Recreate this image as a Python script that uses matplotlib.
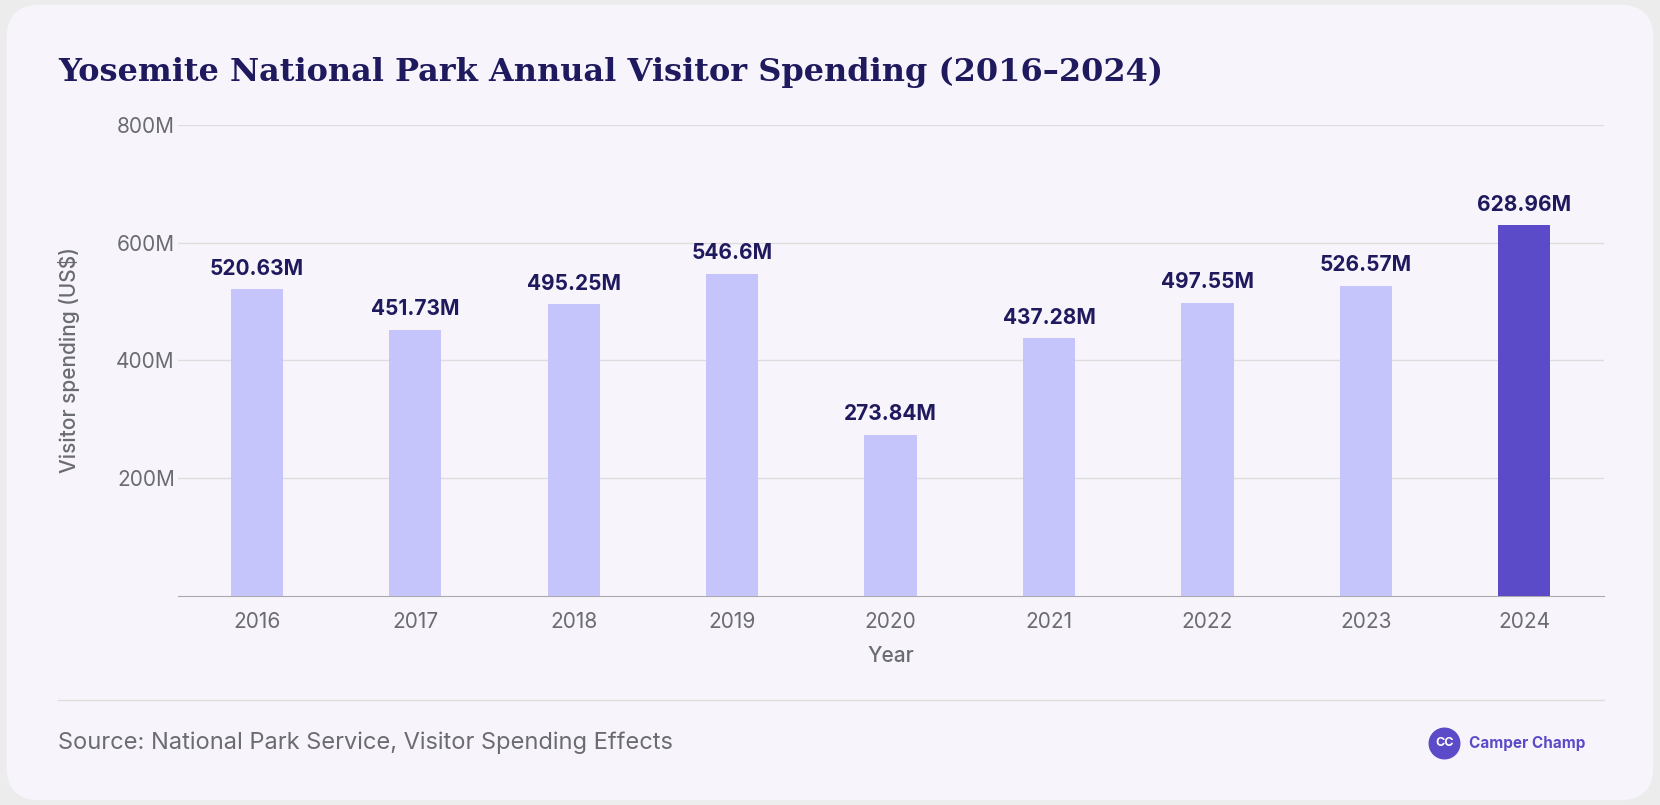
import matplotlib
matplotlib.use("Agg")
import matplotlib.pyplot as plt
from matplotlib.patches import FancyBboxPatch
from matplotlib.lines import Line2D

plt.rcParams['font.family'] = ['Inter', 'DejaVu Sans']

years = ["2016","2017","2018","2019","2020","2021","2022","2023","2024"]
spending = [520.63, 451.73, 495.25, 546.6, 273.84, 437.28, 497.55, 526.57, 628.96]
labels = ["520.63M","451.73M","495.25M","546.6M","273.84M","437.28M","497.55M","526.57M","628.96M"]
yticks = [200, 400, 600, 800]
ytick_labels = ["200M","400M","600M","800M"]

navy = "#1f1a5e"
grey = "#6b6b73"
fig = plt.figure(figsize=(16.6, 8.05), dpi=100)
fig.patch.set_facecolor("#ececec")
bg = fig.add_axes([0, 0, 1, 1], zorder=-10)
bg.set_axis_off()
bg.set_xlim(0, 1); bg.set_ylim(0, 1)
bg.add_patch(FancyBboxPatch((0.004, 0.006), 0.992, 0.988, boxstyle="round,pad=0,rounding_size=0.02",
                            facecolor="#f7f5fb", edgecolor="none", mutation_aspect=1660/805))

ax = fig.add_axes([0.107, 0.26, 0.859, 0.585])
ax.set_facecolor("none")
colors = ["#c5c5fb"] * 8 + ["#5b4bc8"]
x = range(len(years))
ax.bar(x, spending, width=0.33, color=colors, zorder=3)
for i, (v, l) in enumerate(zip(spending, labels)):
    ax.text(i, v + 18, l, ha="center", va="bottom", fontsize=15, fontweight="bold", color=navy, zorder=4)
ax.set_ylim(0, 800)
ax.set_xlim(-0.5, 8.5)
ax.set_yticks(yticks)
ax.set_yticklabels(ytick_labels)
ax.set_xticks(list(x))
ax.set_xticklabels(years)
ax.tick_params(length=0, labelsize=15, colors=grey, pad=12)
ax.tick_params(axis="y", pad=2)
ax.grid(axis="y", color="#dddddd", linewidth=1, zorder=0)
for s in ["top", "right", "left"]:
    ax.spines[s].set_visible(False)
ax.spines["bottom"].set_color("#aaaaaa")
ax.set_xlabel("Year", fontsize=15, color=grey, labelpad=10, fontweight="medium")
ax.set_ylabel("Visitor spending (US$)", fontsize=15, color=grey, labelpad=26, fontweight="medium")

fig.text(0.035, 0.91, "Yosemite National Park Annual Visitor Spending (2016–2024)",
         fontsize=23, fontweight="bold", family="DejaVu Serif", color=navy, va="center")
fig.add_artist(Line2D([0.035, 0.966], [0.13, 0.13], transform=fig.transFigure, color="#dddddd", lw=1))
fig.text(0.035, 0.077, "Source: National Park Service, Visitor Spending Effects",
         fontsize=17, color=grey, va="center")
fig.add_artist(Line2D([0.870], [0.077], marker="o", markersize=22, color="#5b4bc8", transform=fig.transFigure))
fig.text(0.870, 0.077, "CC", fontsize=9, fontweight="bold", color="white", ha="center", va="center")
fig.text(0.885, 0.077, "Camper Champ", fontsize=11, fontweight="bold", color="#5b4bc8", va="center")
fig.savefig("out.png", dpi=100, facecolor=fig.get_facecolor())
